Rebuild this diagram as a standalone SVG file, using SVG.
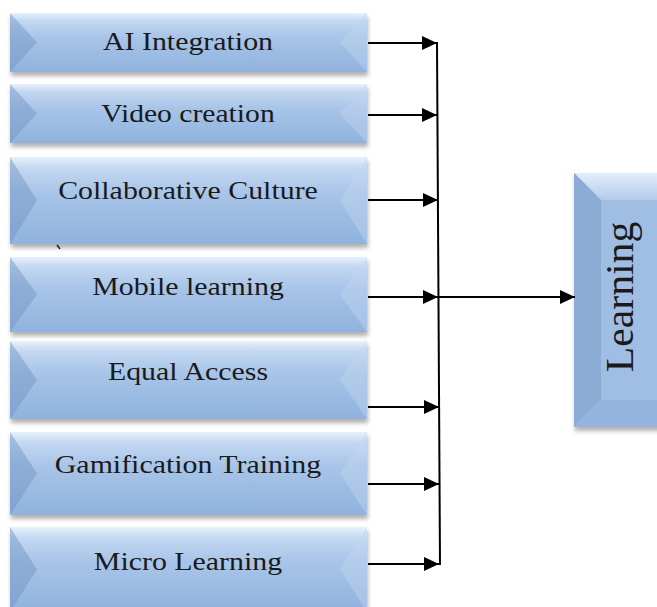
<svg xmlns="http://www.w3.org/2000/svg" width="657" height="607" viewBox="0 0 657 607">
<style>
.lbl{font-family:"Liberation Serif","Times New Roman",serif;font-size:26px;fill:#1a1a1a;text-anchor:middle}
.big{font-family:"Liberation Serif","Times New Roman",serif;font-size:39px;fill:#1a1a1a;text-anchor:middle}
.body{fill:url(#bodyG);filter:url(#sh)}
.lt{fill:#6f92c2;opacity:.45}
.rt{fill:#c4d8f1;opacity:.4}
.ln{stroke:#000;stroke-width:2;fill:none}
</style>
<defs>
<linearGradient id="bodyG" x1="0" y1="0" x2="0" y2="1">
<stop offset="0" stop-color="#e8f1fb"/>
<stop offset="0.13" stop-color="#c3d8f1"/>
<stop offset="0.4" stop-color="#a9c5e8"/>
<stop offset="1" stop-color="#90b2dd"/>
</linearGradient>
<linearGradient id="topG" x1="0" y1="0" x2="0" y2="1">
<stop offset="0" stop-color="#e4eefa"/>
<stop offset="1" stop-color="#b3cbea"/>
</linearGradient>
<filter id="sh" x="-5%" y="-10%" width="115%" height="130%">
<feDropShadow dx="1" dy="4" stdDeviation="2" flood-color="#555" flood-opacity="0.45"/>
</filter>
<marker id="ah" viewBox="0 0 15 14" refX="15" refY="7" markerWidth="15" markerHeight="14" markerUnits="userSpaceOnUse" orient="auto">
<path d="M0,0 L15,7 L0,14 Z" fill="#000"/>
</marker>
</defs>

<g id="n1">
<rect class="body" x="10" y="13" width="357" height="59"/>
<polygon class="lt" points="10,13 37,42.5 10,72"/>
<polygon class="rt" points="367,13 340,42.5 367,72"/>
<text class="lbl" transform="translate(188,50) scale(1.15,1)">AI Integration</text>
</g>
<g id="n2">
<rect class="body" x="10" y="84" width="357" height="59"/>
<polygon class="lt" points="10,84 37,113.5 10,143"/>
<polygon class="rt" points="367,84 340,113.5 367,143"/>
<text class="lbl" transform="translate(188,122) scale(1.14,1)">Video creation</text>
</g>
<g id="n3">
<rect class="body" x="10" y="157" width="357" height="87"/>
<polygon class="lt" points="10,157 37,200.5 10,244"/>
<polygon class="rt" points="367,157 340,200.5 367,244"/>
<text class="lbl" transform="translate(188,199) scale(1.15,1)">Collaborative Culture</text>
<path d="M57,245 L60,249" stroke="#222" stroke-width="1.5"/>
</g>
<g id="n4">
<rect class="body" x="10" y="257" width="357" height="75"/>
<polygon class="lt" points="10,257 37,294.5 10,332"/>
<polygon class="rt" points="367,257 340,294.5 367,332"/>
<text class="lbl" transform="translate(188,295) scale(1.15,1)">Mobile learning</text>
</g>
<g id="n5">
<rect class="body" x="10" y="341" width="357" height="78"/>
<polygon class="lt" points="10,341 37,380 10,419"/>
<polygon class="rt" points="367,341 340,380 367,419"/>
<text class="lbl" transform="translate(188,380) scale(1.15,1)">Equal Access</text>
</g>
<g id="n6">
<rect class="body" x="10" y="432" width="357" height="83"/>
<polygon class="lt" points="10,432 37,473.5 10,515"/>
<polygon class="rt" points="367,432 340,473.5 367,515"/>
<text class="lbl" transform="translate(188,473) scale(1.15,1)">Gamification Training</text>
</g>
<g id="n7">
<rect class="body" x="10" y="527" width="357" height="85"/>
<polygon class="lt" points="10,527 37,569.5 10,612"/>
<polygon class="rt" points="367,527 340,569.5 367,612"/>
<text class="lbl" transform="translate(188,570) scale(1.15,1)">Micro Learning</text>
</g>

<g id="learning">
<rect x="574" y="173" width="90" height="254" fill="#a0bee4" filter="url(#sh)"/>
<polygon points="574,173 664,173 664,200 601,200" fill="url(#topG)"/>
<polygon points="574,173 601,200 601,400 574,427" fill="#8cabd5"/>
<polygon points="574,427 601,400 664,400 664,427" fill="#96b5de"/>
<text class="big" transform="translate(633,297) rotate(-90) scale(1.07,1)">Learning</text>
</g>

<g id="connectors">
<path class="ln" d="M437,42 L440,565"/>
<path class="ln" d="M368,43 L437,43" marker-end="url(#ah)"/>
<path class="ln" d="M368,115 L437,115" marker-end="url(#ah)"/>
<path class="ln" d="M368,200 L438,200" marker-end="url(#ah)"/>
<path class="ln" d="M368,297 L438,297" marker-end="url(#ah)"/>
<path class="ln" d="M368,407 L439,407" marker-end="url(#ah)"/>
<path class="ln" d="M368,484 L439,484" marker-end="url(#ah)"/>
<path class="ln" d="M368,564 L439,564" marker-end="url(#ah)"/>
<path class="ln" d="M438,297 L575,297" marker-end="url(#ah)"/>
</g>
</svg>
